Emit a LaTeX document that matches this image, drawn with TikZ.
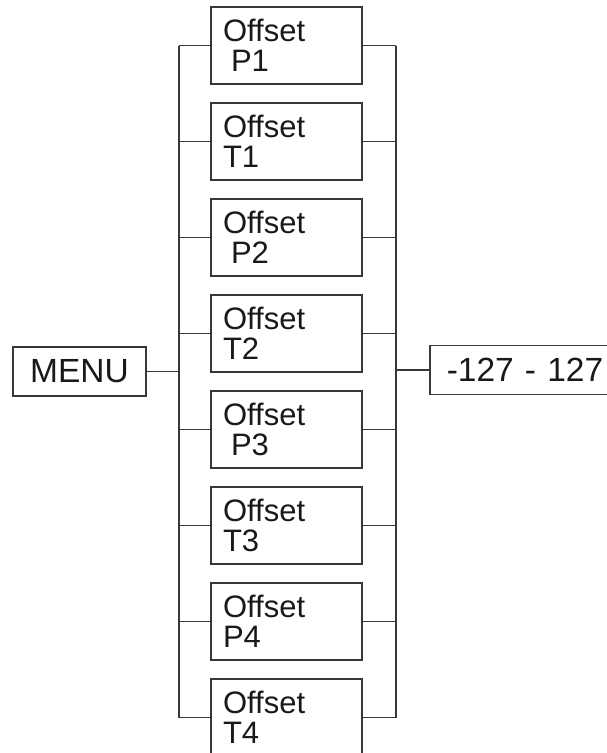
\documentclass[tikz,border=0pt]{standalone}
\usepackage{fontspec}
\setmainfont{Liberation Sans}
\usetikzlibrary{calc}
\tikzset{
	offbox/.style={draw=black!78,line width=1.6pt,minimum width=151pt,minimum height=77pt,
		text width=127pt,inner xsep=12pt,align=left,text=black!90,
		font=\fontsize{31}{30}\selectfont},
	endbox/.style={draw=black!78,line width=1.6pt,minimum height=49pt,text=black!90,
		font=\fontsize{33.5}{36}\selectfont},
	bus/.style={draw=black!78,line width=1.6pt}
}

\begin{document}
\begin{tikzpicture}[x=1pt,y=-1pt]
	\useasboundingbox (0,0) rectangle (606,753);
	\path (179,45.5) coordinate (ltop) (396,45.5) coordinate (rtop);
	% the eight offset boxes
	\foreach \lbl [count=\i from 0] in {{\hspace*{8pt}P1},T1,{\hspace*{8pt}P2},T2,{\hspace*{8pt}P3},T3,P4,T4}
	{
		\node[offbox] (box\i) at (286.5,{45.5+96*\i}) {Offset\\\lbl};
		\draw[bus] (box\i.west) -- (box\i.west -| ltop);
		\draw[bus] (box\i.east) -- (box\i.east -| rtop);
	}
	\draw[bus] (box0.west -| ltop) -- (box7.west -| ltop);
	\draw[bus] (box0.east -| rtop) -- (box7.east -| rtop);
	\node[endbox,minimum width=133pt] (menu) at (79.5,371.5) {MENU};
	\node[endbox,anchor=west,inner xsep=17pt,text width=170pt,align=left] (range) at (429,370) {-127 - 127};
	\draw[bus] (menu.east) -- (menu.east -| ltop);
	\draw[bus] (range.west) -- (range.west -| rtop);
\end{tikzpicture}
\end{document}
